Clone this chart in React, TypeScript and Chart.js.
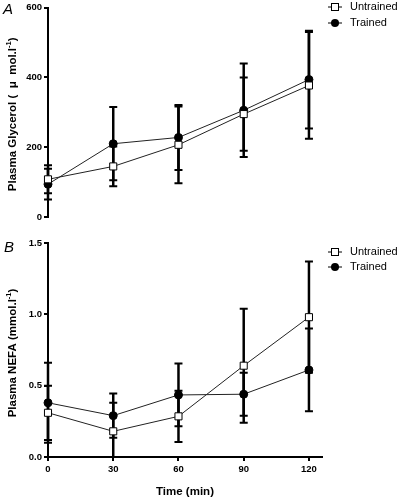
import React, { useEffect, useRef } from 'react';
import { Chart, registerables } from 'chart.js';

Chart.register(...registerables);

const FONT = '"Liberation Sans", Arial, Helvetica, sans-serif';

// ---- data ----
const timePoints = [0, 30, 60, 90, 120];
const xTicks = [0, 30, 60, 90, 120];
const seriesLabels = ['Untrained', 'Trained'];

const glycerolUntrained = [108, 145, 207, 295, 377];
const glycerolUntrainedSD = [40, 57, 110, 105, 153];
const glycerolTrained = [94, 210, 228, 306, 394];
const glycerolTrainedSD = [44, 105, 93, 134, 140];
const glycerolTicks = [0, 200, 400, 600];

const nefaUntrained = [0.31, 0.18, 0.285, 0.64, 0.98];
const nefaUntrainedSD = [0.19, 0.2, 0.18, 0.4, 0.39];
const nefaTrained = [0.38, 0.29, 0.435, 0.44, 0.61];
const nefaTrainedSD = [0.28, 0.155, 0.22, 0.15, 0.29];
const nefaTicks = [0, 0.5, 1.0, 1.5];

// ---- plugins ----
const errorBarPlugin = {
  id: 'errorBars',
  beforeDatasetsDraw(chart: any, _args: any, opts: any) {
    const { ctx, chartArea } = chart;
    const xs = chart.scales.x;
    const ys = chart.scales.y;
    const errs: number[][] = opts.errors || [];
    ctx.save();
    ctx.beginPath();
    ctx.rect(chartArea.left - 20, chartArea.top - 20, chartArea.right - chartArea.left + 40, chartArea.bottom - chartArea.top + 20);
    ctx.clip();
    ctx.strokeStyle = '#000';
    chart.data.datasets.forEach((ds: any, di: number) => {
      const e = errs[di];
      if (!e) return;
      ds.data.forEach((p: any, i: number) => {
        const x = xs.getPixelForValue(p.x);
        const yHi = ys.getPixelForValue(p.y + e[i]);
        const yLo = ys.getPixelForValue(p.y - e[i]);
        ctx.lineWidth = 2.5;
        ctx.beginPath();
        ctx.moveTo(x, yHi);
        ctx.lineTo(x, yLo);
        ctx.stroke();
        ctx.lineWidth = 2;
        ctx.beginPath();
        ctx.moveTo(x - 4, yHi);
        ctx.lineTo(x + 4, yHi);
        ctx.moveTo(x - 4, yLo);
        ctx.lineTo(x + 4, yLo);
        ctx.stroke();
      });
    });
    ctx.restore();
  },
};

const customLegendPlugin = {
  id: 'customLegend',
  afterDraw(chart: any, _args: any, opts: any) {
    const { ctx } = chart;
    ctx.save();
    chart.data.datasets.forEach((ds: any, i: number) => {
      const x = opts.x;
      const y = opts.y + i * opts.dy;
      ctx.strokeStyle = '#000';
      ctx.lineWidth = 1;
      ctx.beginPath();
      ctx.moveTo(x, y);
      ctx.lineTo(x + 14, y);
      ctx.stroke();
      const cx = x + 7;
      if (ds.pointStyle === 'rect') {
        ctx.fillStyle = '#fff';
        ctx.fillRect(cx - 3.5, y - 3.5, 7, 7);
        ctx.strokeRect(cx - 3.5, y - 3.5, 7, 7);
      } else {
        ctx.fillStyle = '#000';
        ctx.beginPath();
        ctx.arc(cx, y, 4, 0, Math.PI * 2);
        ctx.fill();
      }
      ctx.fillStyle = '#000';
      ctx.font = `11px ${FONT}`;
      ctx.textAlign = 'left';
      ctx.textBaseline = 'middle';
      ctx.fillText(ds.label, x + 22, y);
    });
    ctx.restore();
  },
};

const panelLabelPlugin = {
  id: 'panelLabel',
  afterDraw(chart: any, _args: any, opts: any) {
    const { ctx } = chart;
    ctx.save();
    ctx.fillStyle = '#000';
    ctx.font = `italic 15px ${FONT}`;
    ctx.textAlign = 'left';
    ctx.textBaseline = 'middle';
    ctx.fillText(opts.text, opts.x, opts.y);
    ctx.restore();
  },
};

const yTitlePlugin = {
  id: 'yTitle',
  afterDraw(chart: any, _args: any, opts: any) {
    const { ctx, chartArea } = chart;
    const parts: { t: string; sup?: boolean }[] = opts.parts;
    const normal = `bold 11.5px ${FONT}`;
    const small = `bold 7.5px ${FONT}`;
    ctx.save();
    let total = 0;
    parts.forEach((p) => {
      ctx.font = p.sup ? small : normal;
      total += ctx.measureText(p.t).width;
    });
    const cy = (chartArea.top + chartArea.bottom) / 2 + (opts.dy || 0);
    ctx.translate(opts.x, cy);
    ctx.rotate(-Math.PI / 2);
    ctx.fillStyle = '#000';
    ctx.textAlign = 'left';
    ctx.textBaseline = 'middle';
    let cur = -total / 2;
    parts.forEach((p) => {
      ctx.font = p.sup ? small : normal;
      ctx.fillText(p.t, cur, p.sup ? -4 : 0);
      cur += ctx.measureText(p.t).width;
    });
    ctx.restore();
  },
};

function yScale(min: number, max: number, ticks: number[], fmt: (v: number) => string) {
  return {
    type: 'linear',
    min,
    max,
    afterFit: (s: any) => {
      s.width = 48;
    },
    afterBuildTicks: (s: any) => {
      s.ticks = ticks.map((v) => ({ value: v }));
    },
    ticks: {
      font: { family: FONT, size: 9.5, weight: 'bold' },
      color: '#000',
      padding: 2,
      callback: (v: any) => fmt(Number(v)),
    },
    grid: { drawOnChartArea: false, drawTicks: true, tickLength: 4, color: '#000', lineWidth: 2 },
    border: { display: true, color: '#000', width: 2 },
  };
}

function datasets(untrained: number[], trained: number[]) {
  return [
    {
      label: seriesLabels[0],
      data: timePoints.map((t, i) => ({ x: t, y: untrained[i] })),
      borderColor: '#222',
      borderWidth: 1,
      pointStyle: 'rect',
      pointRadius: 5,
      pointBackgroundColor: '#fff',
      pointBorderColor: '#000',
      pointBorderWidth: 1,
      clip: false,
      tension: 0,
    },
    {
      label: seriesLabels[1],
      data: timePoints.map((t, i) => ({ x: t, y: trained[i] })),
      borderColor: '#222',
      borderWidth: 1,
      pointStyle: 'circle',
      pointRadius: 4,
      pointBackgroundColor: '#000',
      pointBorderColor: '#000',
      pointBorderWidth: 1,
      clip: false,
      tension: 0,
    },
  ];
}

export default function App() {
  const topRef = useRef<HTMLCanvasElement>(null);
  const botRef = useRef<HTMLCanvasElement>(null);

  useEffect(() => {
    const top = new Chart(topRef.current as HTMLCanvasElement, {
      type: 'line',
      data: { datasets: datasets(glycerolUntrained, glycerolTrained) as any },
      options: {
        responsive: false,
        animation: false,
        devicePixelRatio: 1,
        layout: { padding: { top: 6, bottom: 18, left: 0, right: 78 } },
        plugins: {
          legend: { display: false },
          tooltip: { enabled: false },
          errorBars: { errors: [glycerolUntrainedSD, glycerolTrainedSD] },
          customLegend: { x: 328, y: 7, dy: 16 },
          panelLabel: { text: 'A', x: 3, y: 10 },
          yTitle: {
            x: 13,
            dy: 2,
            parts: [{ t: 'Plasma Glycerol (  \u03bc  mol.l' }, { t: '-1', sup: true }, { t: ')' }],
          },
        } as any,
        scales: {
          x: { type: 'linear', min: 0, max: 126, display: false },
          y: yScale(0, 600, glycerolTicks, (v) => String(v)) as any,
        },
      },
      plugins: [errorBarPlugin, customLegendPlugin, panelLabelPlugin, yTitlePlugin],
    });

    const bot = new Chart(botRef.current as HTMLCanvasElement, {
      type: 'line',
      data: { datasets: datasets(nefaUntrained, nefaTrained) as any },
      options: {
        responsive: false,
        animation: false,
        devicePixelRatio: 1,
        layout: { padding: { top: 8, bottom: 0, left: 0, right: 78 } },
        plugins: {
          legend: { display: false },
          tooltip: { enabled: false },
          errorBars: { errors: [nefaUntrainedSD, nefaTrainedSD] },
          customLegend: { x: 328, y: 17, dy: 15 },
          panelLabel: { text: 'B', x: 4, y: 13 },
          yTitle: {
            x: 13,
            dy: 3,
            parts: [{ t: 'Plasma NEFA (mmol.l' }, { t: '-1', sup: true }, { t: ')' }],
          },
        } as any,
        scales: {
          x: {
            type: 'linear',
            min: 0,
            max: 126,
            afterFit: (s: any) => {
              s.height = 43;
            },
            afterBuildTicks: (s: any) => {
              s.ticks = xTicks.map((v) => ({ value: v }));
            },
            ticks: {
              font: { family: FONT, size: 9.5, weight: 'bold' },
              color: '#000',
              padding: 3,
              maxRotation: 0,
            },
            grid: { drawOnChartArea: false, drawTicks: true, tickLength: 4, color: '#000', lineWidth: 2 },
            border: { display: true, color: '#000', width: 2 },
            title: {
              display: true,
              text: 'Time (min)',
              color: '#000',
              font: { family: FONT, size: 11.5, weight: 'bold' },
              padding: { top: 0, bottom: 1 },
            },
          } as any,
          y: yScale(0, 1.5, nefaTicks, (v) => v.toFixed(1)) as any,
        },
      },
      plugins: [errorBarPlugin, customLegendPlugin, panelLabelPlugin, yTitlePlugin],
    });

    return () => {
      top.destroy();
      bot.destroy();
    };
  }, []);

  return (
    <div style={{ position: 'fixed', left: 0, top: 0, width: 400, height: 500, background: '#fff' }}>
      <canvas ref={topRef} width={400} height={235} style={{ position: 'absolute', left: 0, top: 0 }} />
      <canvas ref={botRef} width={400} height={265} style={{ position: 'absolute', left: 0, top: 235 }} />
    </div>
  );
}
